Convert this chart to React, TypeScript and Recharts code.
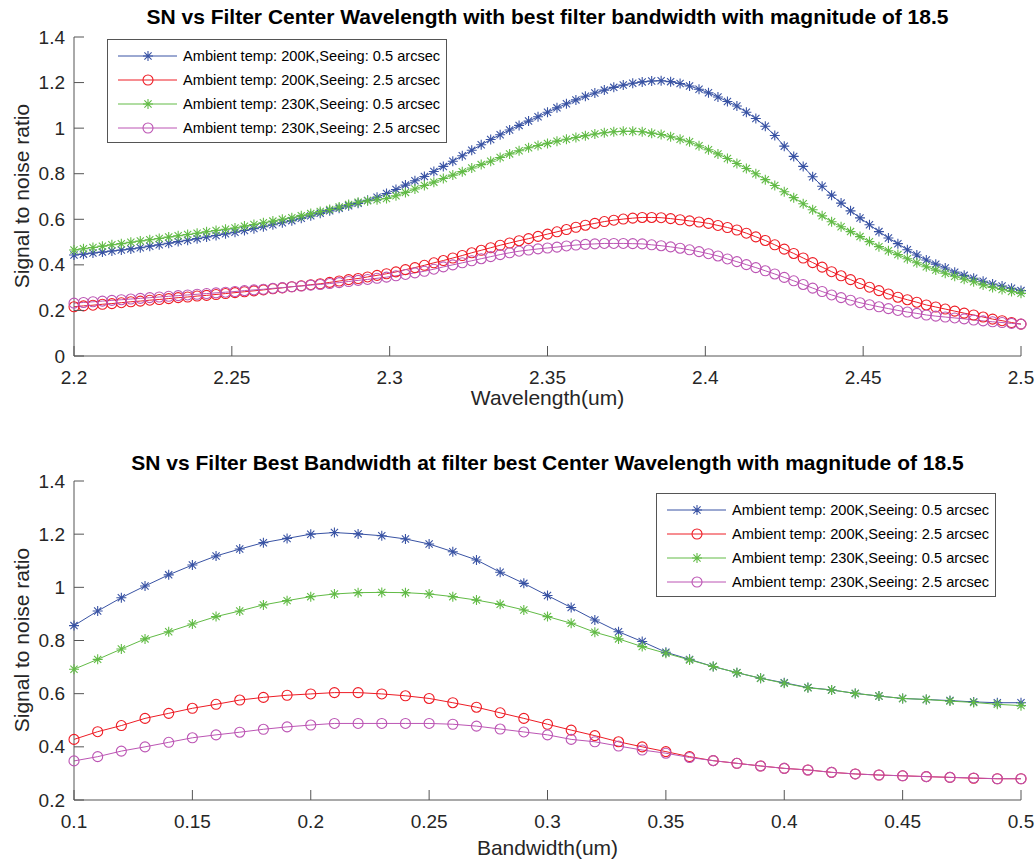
import React from 'react';
import { LineChart, Line, XAxis, YAxis } from 'recharts';

// ---------- Top panel: SN vs filter centre wavelength ----------
const wlX = [
  2.200, 2.203, 2.206, 2.209, 2.212, 2.215, 2.218, 2.221, 2.224, 2.227,
  2.230, 2.233, 2.236, 2.239, 2.242, 2.245, 2.248, 2.251, 2.254, 2.257,
  2.260, 2.263, 2.266, 2.269, 2.272, 2.275, 2.278, 2.281, 2.284, 2.287,
  2.290, 2.293, 2.296, 2.299, 2.302, 2.305, 2.308, 2.311, 2.314, 2.317,
  2.320, 2.323, 2.326, 2.329, 2.332, 2.335, 2.338, 2.341, 2.344, 2.347,
  2.350, 2.353, 2.356, 2.359, 2.362, 2.365, 2.368, 2.371, 2.374, 2.377,
  2.380, 2.383, 2.386, 2.389, 2.392, 2.395, 2.398, 2.401, 2.404, 2.407,
  2.410, 2.413, 2.416, 2.419, 2.422, 2.425, 2.428, 2.431, 2.434, 2.437,
  2.440, 2.443, 2.446, 2.449, 2.452, 2.455, 2.458, 2.461, 2.464, 2.467,
  2.470, 2.473, 2.476, 2.479, 2.482, 2.485, 2.488, 2.491, 2.494, 2.497,
  2.500,
];

const wl200K05 = [
  0.443, 0.447, 0.452, 0.456, 0.461, 0.465, 0.470, 0.475, 0.482, 0.488,
  0.495, 0.502, 0.508, 0.515, 0.522, 0.529, 0.536, 0.543, 0.551, 0.559,
  0.567, 0.576, 0.585, 0.594, 0.604, 0.615, 0.626, 0.637, 0.648, 0.659,
  0.670, 0.683, 0.697, 0.713, 0.731, 0.750, 0.769, 0.788, 0.810, 0.832,
  0.855, 0.879, 0.903, 0.927, 0.950, 0.971, 0.992, 1.012, 1.031, 1.050,
  1.070, 1.089, 1.107, 1.124, 1.140, 1.154, 1.167, 1.179, 1.189, 1.197,
  1.203, 1.207, 1.208, 1.204, 1.196, 1.185, 1.171, 1.155, 1.137, 1.117,
  1.097, 1.070, 1.042, 1.008, 0.968, 0.921, 0.876, 0.832, 0.787, 0.745,
  0.706, 0.671, 0.637, 0.606, 0.576, 0.546, 0.518, 0.493, 0.466, 0.443,
  0.421, 0.403, 0.386, 0.368, 0.354, 0.341, 0.328, 0.316, 0.307, 0.297,
  0.287,
];

const wl200K25 = [
  0.216, 0.220, 0.223, 0.227, 0.230, 0.234, 0.238, 0.241, 0.245, 0.248,
  0.252, 0.256, 0.259, 0.263, 0.266, 0.270, 0.274, 0.278, 0.282, 0.286,
  0.290, 0.295, 0.299, 0.304, 0.308, 0.313, 0.317, 0.323, 0.329, 0.335,
  0.340, 0.347, 0.354, 0.361, 0.369, 0.379, 0.388, 0.398, 0.409, 0.419,
  0.430, 0.441, 0.453, 0.464, 0.475, 0.486, 0.496, 0.506, 0.515, 0.525,
  0.535, 0.545, 0.555, 0.565, 0.574, 0.582, 0.590, 0.596, 0.601, 0.605,
  0.608, 0.608, 0.607, 0.603, 0.598, 0.593, 0.588, 0.582, 0.573, 0.564,
  0.553, 0.539, 0.523, 0.507, 0.488, 0.469, 0.450, 0.430, 0.410, 0.390,
  0.370, 0.352, 0.335, 0.318, 0.302, 0.287, 0.272, 0.258, 0.247, 0.236,
  0.224, 0.215, 0.206, 0.197, 0.188, 0.180, 0.171, 0.162, 0.155, 0.147,
  0.140,
];

const wl230K05 = [
  0.465, 0.471, 0.476, 0.482, 0.488, 0.493, 0.499, 0.505, 0.510, 0.516,
  0.522, 0.528, 0.533, 0.539, 0.545, 0.551, 0.556, 0.562, 0.570, 0.577,
  0.585, 0.592, 0.600, 0.607, 0.616, 0.625, 0.634, 0.643, 0.654, 0.665,
  0.675, 0.681, 0.686, 0.691, 0.703, 0.718, 0.733, 0.748, 0.763, 0.779,
  0.794, 0.809, 0.825, 0.840, 0.855, 0.871, 0.887, 0.901, 0.914, 0.924,
  0.933, 0.943, 0.951, 0.959, 0.967, 0.974, 0.980, 0.984, 0.986, 0.986,
  0.984, 0.978, 0.972, 0.962, 0.951, 0.940, 0.923, 0.905, 0.887, 0.867,
  0.845, 0.823, 0.800, 0.774, 0.748, 0.721, 0.695, 0.668, 0.642, 0.615,
  0.589, 0.567, 0.546, 0.524, 0.502, 0.480, 0.462, 0.445, 0.427, 0.409,
  0.392, 0.377, 0.363, 0.350, 0.337, 0.326, 0.312, 0.301, 0.292, 0.283,
  0.275,
];

const wl230K25 = [
  0.232, 0.235, 0.238, 0.241, 0.244, 0.247, 0.250, 0.253, 0.256, 0.259,
  0.262, 0.265, 0.268, 0.271, 0.274, 0.277, 0.280, 0.283, 0.287, 0.290,
  0.293, 0.297, 0.300, 0.304, 0.307, 0.311, 0.314, 0.318, 0.322, 0.327,
  0.332, 0.336, 0.341, 0.346, 0.352, 0.358, 0.365, 0.372, 0.381, 0.391,
  0.400, 0.409, 0.418, 0.427, 0.436, 0.445, 0.453, 0.460, 0.465, 0.470,
  0.474, 0.478, 0.483, 0.487, 0.490, 0.492, 0.494, 0.494, 0.494, 0.493,
  0.492, 0.488, 0.484, 0.479, 0.473, 0.466, 0.458, 0.449, 0.439, 0.426,
  0.414, 0.401, 0.388, 0.374, 0.360, 0.345, 0.330, 0.314, 0.298, 0.283,
  0.268, 0.256, 0.245, 0.234, 0.225, 0.216, 0.208, 0.200, 0.193, 0.187,
  0.180, 0.175, 0.171, 0.167, 0.163, 0.158, 0.154, 0.150, 0.147, 0.143,
  0.140,
];

const wlTicks = [2.2, 2.25, 2.3, 2.35, 2.4, 2.45, 2.5];
const wlYTicks = [0, 0.2, 0.4, 0.6, 0.8, 1, 1.2, 1.4];

// ---------- Bottom panel: SN vs filter bandwidth ----------
const bwX = [
  0.10, 0.11, 0.12, 0.13, 0.14, 0.15, 0.16, 0.17, 0.18, 0.19,
  0.20, 0.21, 0.22, 0.23, 0.24, 0.25, 0.26, 0.27, 0.28, 0.29,
  0.30, 0.31, 0.32, 0.33, 0.34, 0.35, 0.36, 0.37, 0.38, 0.39,
  0.40, 0.41, 0.42, 0.43, 0.44, 0.45, 0.46, 0.47, 0.48, 0.49,
  0.50,
];

const bw200K05 = [
  0.856, 0.911, 0.961, 1.005, 1.047, 1.084, 1.118, 1.144, 1.168, 1.184,
  1.200, 1.206, 1.201, 1.194, 1.182, 1.163, 1.134, 1.103, 1.057, 1.015,
  0.969, 0.924, 0.877, 0.833, 0.796, 0.756, 0.729, 0.702, 0.679, 0.658,
  0.641, 0.623, 0.614, 0.601, 0.591, 0.582, 0.578, 0.574, 0.569, 0.566,
  0.566,
];

const bw200K25 = [
  0.428, 0.457, 0.480, 0.507, 0.526, 0.545, 0.560, 0.576, 0.586, 0.594,
  0.599, 0.604, 0.604, 0.599, 0.592, 0.582, 0.566, 0.549, 0.528, 0.507,
  0.485, 0.463, 0.442, 0.419, 0.400, 0.382, 0.363, 0.348, 0.338, 0.328,
  0.319, 0.313, 0.304, 0.298, 0.294, 0.291, 0.288, 0.285, 0.282, 0.280,
  0.280,
];

const bw230K05 = [
  0.692, 0.729, 0.768, 0.806, 0.833, 0.862, 0.890, 0.911, 0.934, 0.950,
  0.965, 0.975, 0.980, 0.981, 0.980, 0.975, 0.965, 0.952, 0.936, 0.915,
  0.890, 0.865, 0.831, 0.806, 0.777, 0.752, 0.727, 0.702, 0.679, 0.658,
  0.639, 0.622, 0.614, 0.601, 0.591, 0.582, 0.578, 0.572, 0.567, 0.560,
  0.555,
];

const bw230K25 = [
  0.347, 0.363, 0.384, 0.400, 0.417, 0.434, 0.445, 0.455, 0.466, 0.475,
  0.482, 0.488, 0.488, 0.488, 0.488, 0.488, 0.485, 0.478, 0.467, 0.456,
  0.445, 0.428, 0.419, 0.403, 0.388, 0.376, 0.360, 0.348, 0.338, 0.328,
  0.319, 0.313, 0.304, 0.298, 0.294, 0.291, 0.288, 0.285, 0.283, 0.280,
  0.280,
];

const bwTicks = [0.1, 0.15, 0.2, 0.25, 0.3, 0.35, 0.4, 0.45, 0.5];
const bwYTicks = [0.2, 0.4, 0.6, 0.8, 1, 1.2, 1.4];

const seriesNames = [
  'Ambient temp: 200K,Seeing: 0.5 arcsec',
  'Ambient temp: 200K,Seeing: 2.5 arcsec',
  'Ambient temp: 230K,Seeing: 0.5 arcsec',
  'Ambient temp: 230K,Seeing: 2.5 arcsec',
];
const seriesKeys = ['a', 'b', 'c', 'd'];
const seriesColors = ['#3953A4', '#EE1C25', '#62BB46', '#BC55B4'];
const seriesMarkers = ['star', 'circle', 'star', 'circle'];

const topData = wlX.map((x, i) => ({ x, a: wl200K05[i], b: wl200K25[i], c: wl230K05[i], d: wl230K25[i] }));
const botData = bwX.map((x, i) => ({ x, a: bw200K05[i], b: bw200K25[i], c: bw230K05[i], d: bw230K25[i] }));

// ---------- styling ----------
const AX = '#555555';
const TXT = '#262626';
const FONT = '"Liberation Sans", Arial, Helvetica, sans-serif';
const TICK_FS = 19;
const LABEL_FS = 21;
const TICK_LEN = 10;
const MR = 5;

const fmt = (v: number) => String(Number(v.toFixed(4)));

function BottomTick(props: any) {
  const { x, y, payload } = props;
  return (
    <g>
      <line x1={x} y1={y} x2={x} y2={y - TICK_LEN} stroke={AX} strokeWidth={1} />
      <text x={x} y={y + 21} textAnchor="middle" dominantBaseline="central" fill={TXT} fontSize={TICK_FS} fontFamily={FONT}>
        {fmt(payload.value)}
      </text>
    </g>
  );
}
function TopTick(props: any) {
  const { x, y } = props;
  return <line x1={x} y1={y} x2={x} y2={y + TICK_LEN} stroke={AX} strokeWidth={1} />;
}
function LeftTick(props: any) {
  const { x, y, payload } = props;
  return (
    <g>
      <line x1={x} y1={y} x2={x + TICK_LEN} y2={y} stroke={AX} strokeWidth={1} />
      <text x={x - 9} y={y} textAnchor="end" dominantBaseline="central" fill={TXT} fontSize={TICK_FS} fontFamily={FONT}>
        {fmt(payload.value)}
      </text>
    </g>
  );
}
function RightTick(props: any) {
  const { x, y } = props;
  return <line x1={x} y1={y} x2={x - TICK_LEN} y2={y} stroke={AX} strokeWidth={1} />;
}

function markerPath(kind: string, cx: number, cy: number, r: number) {
  if (kind === 'star') {
    const d = r * 0.72;
    return `M${cx - r},${cy}H${cx + r}M${cx},${cy - r}V${cy + r}M${cx - d},${cy - d}L${cx + d},${cy + d}M${cx - d},${cy + d}L${cx + d},${cy - d}`;
  }
  return `M${cx - r},${cy}a${r},${r} 0 1,0 ${2 * r},0a${r},${r} 0 1,0 ${-2 * r},0`;
}

function makeDot(kind: string, color: string, id: string) {
  return (props: any) => {
    const { cx, cy, index } = props;
    if (cx == null || cy == null) return <g key={`${id}-${index}`} />;
    return <path key={`${id}-${index}`} d={markerPath(kind, cx, cy, MR)} stroke={color} strokeWidth={1.1} fill="none" />;
  };
}

function LegendBox({ left, top }: { left: number; top: number }) {
  const w = 340;
  const h = 104;
  const rows = [17, 41, 65, 89];
  return (
    <svg style={{ position: 'absolute', left, top, overflow: 'visible' }} width={w} height={h}>
      <rect x={0.5} y={0.5} width={w - 1} height={h - 1} fill="#ffffff" stroke={AX} strokeWidth={1} />
      {seriesNames.map((name, i) => (
        <g key={name}>
          <line x1={11} x2={70} y1={rows[i]} y2={rows[i]} stroke={seriesColors[i]} strokeWidth={1} />
          <path d={markerPath(seriesMarkers[i], 41, rows[i], MR)} stroke={seriesColors[i]} strokeWidth={1.1} fill="none" />
          <text x={76} y={rows[i]} dominantBaseline="central" fontSize={14.6} fontFamily={FONT} fill="#000">
            {name}
          </text>
        </g>
      ))}
    </svg>
  );
}

function Panel({ data, xTicks, yTicks, xDomain, yDomain, height, marginTop }: any) {
  return (
    <LineChart width={1035} height={height} data={data} margin={{ top: marginTop, right: 14, bottom: 0, left: 0 }}>
      <XAxis
        xAxisId="b"
        dataKey="x"
        type="number"
        domain={xDomain}
        ticks={xTicks}
        interval={0}
        height={height - marginTop - 319}
        tickSize={0}
        tickMargin={0}
        tick={<BottomTick />}
        axisLine={{ stroke: AX, strokeWidth: 1 }}
        tickLine={false}
      />
      <XAxis
        xAxisId="t"
        orientation="top"
        type="number"
        domain={xDomain}
        ticks={xTicks}
        interval={0}
        height={0}
        tickSize={0}
        tickMargin={0}
        tick={<TopTick />}
        axisLine={{ stroke: AX, strokeWidth: 1 }}
        tickLine={false}
        allowDataOverflow
      />
      <YAxis
        yAxisId="l"
        type="number"
        domain={yDomain}
        ticks={yTicks}
        interval={0}
        width={74}
        tickSize={0}
        tickMargin={0}
        tick={<LeftTick />}
        axisLine={{ stroke: AX, strokeWidth: 1 }}
        tickLine={false}
      />
      <YAxis
        yAxisId="r"
        orientation="right"
        type="number"
        domain={yDomain}
        ticks={yTicks}
        interval={0}
        width={0}
        tickSize={0}
        tickMargin={0}
        tick={<RightTick />}
        axisLine={{ stroke: AX, strokeWidth: 1 }}
        tickLine={false}
        allowDataOverflow
      />
      {seriesKeys.map((k, i) => (
        <Line
          key={k}
          xAxisId="b"
          yAxisId="l"
          type="linear"
          dataKey={k}
          stroke={seriesColors[i]}
          strokeWidth={1}
          dot={makeDot(seriesMarkers[i], seriesColors[i], `${k}${height}`)}
          activeDot={false}
          isAnimationActive={false}
        />
      ))}
    </LineChart>
  );
}

const titleStyle: React.CSSProperties = {
  position: 'absolute',
  left: 74,
  width: 947,
  textAlign: 'center',
  fontFamily: FONT,
  fontWeight: 'bold',
  fontSize: 21,
  lineHeight: '24px',
  color: '#000',
  whiteSpace: 'nowrap',
};
const xLabelStyle: React.CSSProperties = {
  position: 'absolute',
  left: 74,
  width: 947,
  textAlign: 'center',
  fontFamily: FONT,
  fontSize: LABEL_FS,
  lineHeight: '24px',
  color: TXT,
};
const yLabelStyle = (cy: number): React.CSSProperties => ({
  position: 'absolute',
  left: 22 - 150,
  top: cy - 12,
  width: 300,
  textAlign: 'center',
  fontFamily: FONT,
  fontSize: LABEL_FS,
  lineHeight: '24px',
  color: TXT,
  transform: 'rotate(-90deg)',
});

export default function App() {
  return (
    <div style={{ position: 'absolute', left: 0, top: 0, width: 1035, height: 865, background: '#fff', overflow: 'hidden' }}>
      <div style={{ position: 'absolute', left: 0, top: 0 }}>
        <Panel data={topData} xTicks={wlTicks} yTicks={wlYTicks} xDomain={[2.2, 2.5]} yDomain={[0, 1.4]} height={420} marginTop={37} />
      </div>
      <div style={{ position: 'absolute', left: 0, top: 440 }}>
        <Panel data={botData} xTicks={bwTicks} yTicks={bwYTicks} xDomain={[0.1, 0.5]} yDomain={[0.2, 1.4]} height={425} marginTop={41} />
      </div>
      <div style={{ ...titleStyle, top: 5 }}>SN vs Filter Center Wavelength with best filter bandwidth with magnitude of 18.5</div>
      <div style={{ ...titleStyle, top: 451 }}>SN vs Filter Best Bandwidth at filter best Center Wavelength with magnitude of 18.5</div>
      <div style={{ ...xLabelStyle, top: 386 }}>Wavelength(um)</div>
      <div style={{ ...xLabelStyle, top: 836 }}>Bandwidth(um)</div>
      <div style={yLabelStyle(196)}>Signal to noise ratio</div>
      <div style={yLabelStyle(640)}>Signal to noise ratio</div>
      <LegendBox left={107} top={39} />
      <LegendBox left={656} top={493} />
    </div>
  );
}
